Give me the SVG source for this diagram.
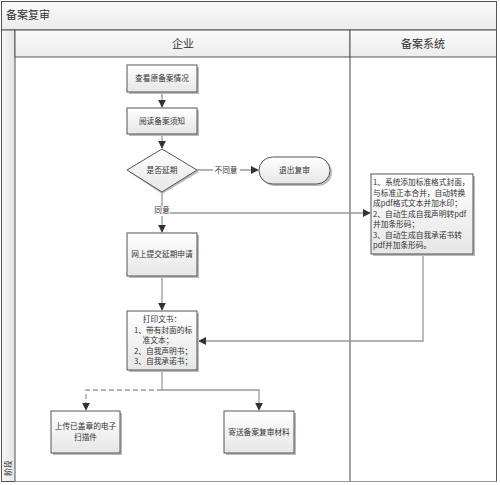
<svg xmlns="http://www.w3.org/2000/svg" width="500" height="485" viewBox="0 0 500 485">
<style>
text{font-family:"Noto Sans CJK SC","Noto Sans",sans-serif;fill:#333}
.t{font-size:7.7px}
.c{text-anchor:middle}
.h{font-size:11px}
.box{fill:url(#g);stroke:#555;stroke-width:1}
.sh{fill:#bbb}
.ln{fill:none;stroke:#999;stroke-width:1.3}
.frame{fill:none;stroke:#555;stroke-width:1}
</style>
<defs>
<linearGradient id="g" x1="0" y1="0" x2="0" y2="1"><stop offset="0" stop-color="#fff"/><stop offset="1" stop-color="#e6e6e6"/></linearGradient>
<linearGradient id="hd" x1="0" y1="0" x2="0" y2="1"><stop offset="0" stop-color="#fafafa"/><stop offset="1" stop-color="#ececec"/></linearGradient>
<linearGradient id="vb" x1="0" y1="0" x2="1" y2="0"><stop offset="0" stop-color="#f6f6f6"/><stop offset="1" stop-color="#e4e4e4"/></linearGradient>
<marker id="a" viewBox="0 0 10 10" refX="9" refY="5" markerWidth="8" markerHeight="8" markerUnits="userSpaceOnUse" orient="auto"><path d="M0,0L10,5L0,10z" fill="#333"/></marker>
</defs>
<rect width="500" height="485" fill="#fff"/>
<g id="frame">
<rect x="1.5" y="1.5" width="495" height="480" fill="#fff" stroke="#555"/>
<rect x="1.5" y="1.5" width="495" height="28.5" fill="url(#hd)" stroke="#555"/>
<text x="6" y="19" class="h">备案复审</text>
<rect x="1.5" y="30" width="13.5" height="451.5" fill="url(#vb)" stroke="#555"/>
<rect x="15" y="30" width="335" height="27" fill="url(#hd)" stroke="#555"/>
<rect x="350" y="30" width="146.5" height="27" fill="url(#hd)" stroke="#555"/>
<text x="183" y="48" class="h c">企业</text>
<text x="423" y="48" class="h c">备案系统</text>
<line x1="350" y1="57" x2="350" y2="481.5" stroke="#444"/>
<line x1="15" y1="481.5" x2="496.5" y2="481.5" stroke="#999"/>
<text transform="translate(11,468) rotate(-90)" class="t c" fill="#666">阶段</text>
</g>
<g id="connectors">
<path class="ln" d="M162,93V107" marker-end="url(#a)"/>
<path class="ln" d="M162,134V148" marker-end="url(#a)"/>
<path class="ln" d="M197,170H258" marker-end="url(#a)"/>
<rect x="213" y="165" width="27" height="10" fill="#fff"/>
<text x="226" y="173" class="t c">不同意</text>
<path class="ln" d="M162,192V232" marker-end="url(#a)"/>
<path class="ln" d="M162,213H370" marker-end="url(#a)"/>
<rect x="153" y="206" width="17" height="10" fill="#fff"/>
<text x="162" y="213" class="t c" fill="#777">同意</text>
<path class="ln" d="M162,276V310" marker-end="url(#a)"/>
<path class="ln" d="M423,255V341H199" marker-end="url(#a)"/>
<path class="ln" d="M162,370V390"/>
<path class="ln" d="M162,390H86V410" stroke-dasharray="5,3" marker-end="url(#a)"/>
<path class="ln" d="M162,390H259V410" marker-end="url(#a)"/>
</g>
<g id="n1">
<rect x="129" y="67" width="70" height="27" class="sh"/>
<rect x="127" y="65" width="70" height="27" class="box"/>
<text x="162" y="81" class="t c">查看原备案情况</text>
</g>
<g id="n2">
<rect x="129" y="110" width="70" height="26" class="sh"/>
<rect x="127" y="108" width="70" height="26" class="box"/>
<text x="162" y="124" class="t c">阅读备案须知</text>
</g>
<g id="n3">
<path d="M162,151L199,172L162,194L129,172z" class="sh"/>
<path d="M162,149L197,170L162,192L127,170z" class="box"/>
<text x="162" y="173" class="t c">是否延期</text>
</g>
<g id="n4">
<rect x="261" y="159" width="71" height="27" rx="13.5" class="sh"/>
<rect x="259" y="157" width="71" height="27" rx="13.5" class="box"/>
<text x="294.5" y="173" class="t c">退出复审</text>
</g>
<g id="n5">
<rect x="373" y="176" width="102" height="80" class="sh"/>
<rect x="371" y="174" width="102" height="80" class="box"/>
<text class="t">
<tspan x="373" y="185">1、系统添加标准格式封面，</tspan>
<tspan x="373" y="195.5">与标准正本合并，自动转换</tspan>
<tspan x="373" y="206">成pdf格式文本并加水印；</tspan>
<tspan x="373" y="216.5">2、自动生成自我声明转pdf</tspan>
<tspan x="373" y="227">并加条形码；</tspan>
<tspan x="373" y="237.5">3、自动生成自我承诺书转</tspan>
<tspan x="373" y="248">pdf并加条形码。</tspan>
</text>
</g>
<g id="n6">
<rect x="129" y="235" width="70" height="43" class="sh"/>
<rect x="127" y="233" width="70" height="43" class="box"/>
<text x="162" y="257" class="t c">网上提交延期申请</text>
</g>
<g id="n7">
<rect x="129" y="313" width="70" height="59" class="sh"/>
<rect x="127" y="311" width="70" height="59" class="box"/>
<text x="162" y="322" class="t c">打印文书：</text>
<text x="134" y="332.5" class="t">1、带有封面的标</text>
<text x="158" y="342.5" class="t c">准文本；</text>
<text x="134" y="354" class="t">2、自我声明书；</text>
<text x="134" y="364" class="t">3、自我承诺书；</text>
</g>
<g id="n8">
<rect x="53" y="413" width="69" height="42" class="sh"/>
<rect x="51" y="411" width="69" height="42" class="box"/>
<text x="85.5" y="429" class="t c">上传已盖章的电子</text>
<text x="85.5" y="440" class="t c">扫描件</text>
</g>
<g id="n9">
<rect x="226" y="413" width="70" height="42" class="sh"/>
<rect x="224" y="411" width="70" height="42" class="box"/>
<text x="259" y="435" class="t c">寄送备案复审材料</text>
</g>
</svg>
